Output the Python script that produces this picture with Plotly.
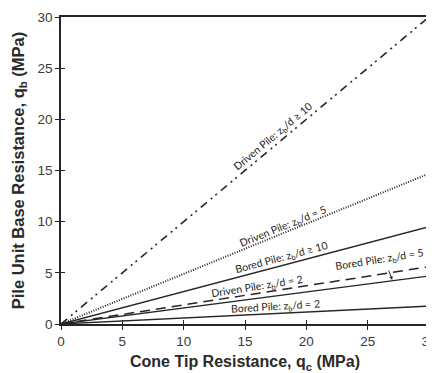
import plotly.graph_objects as go

# Data
qc = [0, 30]
series_names = [
    "Driven Pile: z_b/d ≥ 10",
    "Driven Pile: z_b/d = 5",
    "Bored Pile: z_b/d ≥ 10",
    "Bored Pile: z_b/d = 5",
    "Driven Pile: z_b/d = 2",
    "Bored Pile: z_b/d = 2",
]
qb_driven_10 = [0, 30.0]
qb_driven_5 = [0, 14.7]
qb_bored_10 = [0, 9.5]
qb_bored_5 = [0, 5.6]
qb_driven_2 = [0, 4.7]
qb_bored_2 = [0, 1.75]
tick_vals = [0, 5, 10, 15, 20, 25, 30]

ink = "#262626"
series = [
    (qb_driven_10, "8px,5px,2px,4px,2px,5px", 1.6),
    (qb_driven_5, "1px,1.5px", 2.0),
    (qb_bored_10, "solid", 1.5),
    (qb_bored_5, "10px,6px", 1.5),
    (qb_driven_2, "solid", 1.3),
    (qb_bored_2, "solid", 1.3),
]

fig = go.Figure()
for (ys, dash, w), name in zip(series, series_names):
    fig.add_trace(go.Scatter(x=qc, y=ys, mode="lines", name=name,
                             line=dict(color=ink, width=w, dash=dash),
                             showlegend=False, hoverinfo="skip"))

lab_font = dict(family="Liberation Sans Narrow, Arial Narrow, Lato, sans-serif",
                size=10.5, color="#1e1e1e")
labels = [
    ("Driven Pile: z<sub>b</sub>/d ≥ 10", 17.3, 18.3, -40),
    ("Driven Pile: z<sub>b</sub>/d = 5", 18.1, 9.5, -22),
    ("Bored Pile: z<sub>b</sub>/d ≥ 10", 18.0, 6.45, -15),
    ("Driven Pile: z<sub>b</sub>/d = 2", 16.0, 3.6, -9),
    ("Bored Pile: z<sub>b</sub>/d = 2", 17.5, 1.7, -3.5),
    ("Bored Pile: z<sub>b</sub>/d = 5", 26.0, 6.25, -9),
]
for t, x, y, a in labels:
    fig.add_annotation(x=x, y=y, xref="x", yref="y", text=t, showarrow=False,
                       textangle=a, font=lab_font)
fig.add_annotation(x=27.0, y=4.3, xref="x", yref="y", text="", showarrow=True,
                   ax=-4, ay=-11, arrowhead=2, arrowsize=0.7, arrowwidth=1,
                   arrowcolor=ink)

axis_font = dict(family="Liberation Sans, Arial, sans-serif", size=13.5, color="#3a3a3a")
xtitle_font = dict(family="Liberation Sans, Arial, sans-serif", size=16, color="#2a2a2a")
ytitle_font = dict(family="Liberation Sans, Arial, sans-serif", size=16.5, color="#2a2a2a")

common = dict(range=[0, 30], tickvals=tick_vals, showgrid=False, zeroline=False,
              linecolor=ink, linewidth=1.5, tickcolor=ink, ticklen=4, tickwidth=1,
              automargin=False)

fig.update_layout(
    width=426, height=365,
    margin=dict(l=53, r=5, t=9, b=49),
    paper_bgcolor="white", plot_bgcolor="white",
    xaxis=dict(**common, ticks="outside", mirror=True, showline=True,
               tickfont=axis_font, ticklabeloverflow="allow",
               title=dict(text="<b>Cone Tip Resistance, q<sub>c</sub> (MPa)</b>",
                          font=xtitle_font, standoff=8)),
    yaxis=dict(**common, ticks="outside", mirror=True, showline=True,
               tickfont=axis_font, ticklabeloverflow="allow",
               title=dict(text="<b>Pile Unit Base Resistance, q<sub>b</sub> (MPa)</b>",
                          font=ytitle_font, standoff=9)),
    xaxis2=dict(**common, overlaying="x", side="bottom", ticks="inside",
                showticklabels=False, showline=False, matches="x"),
    yaxis2=dict(**common, overlaying="y", side="left", ticks="inside",
                showticklabels=False, showline=False, matches="y"),
)
fig.add_trace(go.Scatter(x=qc, y=[None, None], xaxis="x2", yaxis="y2",
                         showlegend=False, hoverinfo="skip"))

fig.write_html("out.html")
